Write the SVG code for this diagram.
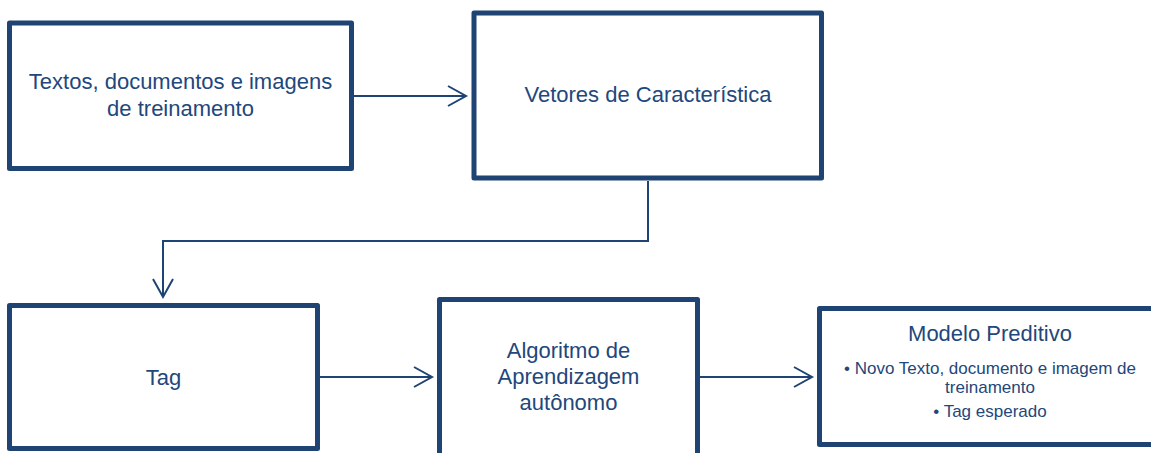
<svg xmlns="http://www.w3.org/2000/svg" width="1151" height="453" viewBox="0 0 1151 453">
  <style>
    .box { fill: #ffffff; stroke: #1f4373; stroke-width: 5; stroke-linejoin: round; }
    .lbl { font-family: "Liberation Sans", Arial, sans-serif; font-size: 22px; fill: #22477b; text-anchor: middle; }
    .sub { font-size: 17px; }
    .wire { fill: none; stroke: #1f4373; stroke-width: 2; }
  </style>
  <defs>
    <marker id="arrow" viewBox="-20 -12 22 24" refX="0" refY="0" markerWidth="22" markerHeight="24" markerUnits="userSpaceOnUse" orient="auto" overflow="visible">
      <path d="M -18 -10 L 0 0 L -18 10" fill="none" stroke="#1f4373" stroke-width="2"/>
    </marker>
  </defs>
  <rect width="1151" height="453" fill="#ffffff"/>

  <!-- connectors -->
  <g id="connectors">
    <path class="wire" d="M 354 96 L 466 96" marker-end="url(#arrow)"/>
    <path class="wire" d="M 648 181 L 648 241 L 163 241 L 163 297" marker-end="url(#arrow)"/>
    <path class="wire" d="M 320 377 L 432 377" marker-end="url(#arrow)"/>
    <path class="wire" d="M 700 377 L 812 377" marker-end="url(#arrow)"/>
  </g>

  <g id="node-treinamento">
    <rect class="box" x="9.5" y="23" width="342" height="145.5"/>
    <text class="lbl" x="180.5" y="89">Textos, documentos e imagens</text>
    <text class="lbl" x="180.5" y="116">de treinamento</text>
  </g>

  <g id="node-vetores">
    <rect class="box" x="474" y="13" width="347.5" height="165"/>
    <text class="lbl" x="648" y="102">Vetores de Característica</text>
  </g>

  <g id="node-tag">
    <rect class="box" x="9.5" y="305.5" width="308" height="143"/>
    <text class="lbl" x="163.5" y="385">Tag</text>
  </g>

  <g id="node-algoritmo">
    <rect class="box" x="439.5" y="299.5" width="258" height="200"/>
    <text class="lbl" x="568.5" y="358">Algoritmo de</text>
    <text class="lbl" x="568.5" y="384">Aprendizagem</text>
    <text class="lbl" x="568.5" y="410">autônomo</text>
  </g>

  <g id="node-modelo">
    <rect class="box" x="819.5" y="308.5" width="400" height="136"/>
    <text class="lbl" x="990" y="341">Modelo Preditivo</text>
    <text class="lbl sub" x="990" y="374">• Novo Texto, documento e imagem de</text>
    <text class="lbl sub" x="990" y="393">treinamento</text>
    <text class="lbl sub" x="990" y="416.5">• Tag esperado</text>
  </g>
</svg>
